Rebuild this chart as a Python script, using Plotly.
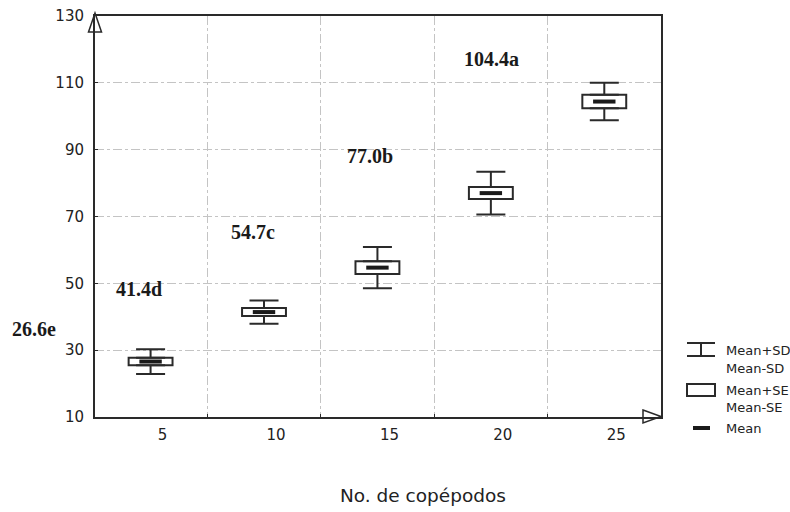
import plotly.graph_objects as go

# ---------------- data ----------------
categories = ["5", "10", "15", "20", "25"]
means = [26.6, 41.4, 54.7, 77.0, 104.4]
sd = [3.7, 3.5, 6.2, 6.4, 5.6]
se = [1.15, 1.2, 1.9, 1.8, 2.0]
group_labels = ["26.6e", "41.4d", "54.7c", "77.0b", "104.4a"]
y_ticks = [10, 30, 50, 70, 90, 110, 130]
x_title = "No. de copépodos"
legend_sd = ["Mean+SD", "Mean-SD"]
legend_se = ["Mean+SE", "Mean-SE"]
legend_mean = ["Mean"]

# ---------------- layout helpers ----------------
W, H = 790, 512
ML, MR, MT, MB = 95, 129, 16, 95
PW, PH = W - ML - MR, H - MT - MB


def px(x):
    return (x - ML) / PW


def py(y):
    return (H - MB - y) / PH


xpos = list(range(len(categories)))
box_lo = [m - s for m, s in zip(means, se)]
box_hi = [m + s for m, s in zip(means, se)]
box_h = [2 * s for s in se]
whisk_ext = [d - s for d, s in zip(sd, se)]
zeros = [0] * len(categories)

DARK = "#2a2a2a"
GRID = "#c4c4c4"
SANS = "DejaVu Sans"

fig = go.Figure()

# upper whiskers (Mean+SE -> Mean+SD)
fig.add_trace(go.Scatter(
    x=xpos, y=box_hi, mode="markers",
    marker=dict(size=1, opacity=0),
    error_y=dict(type="data", symmetric=False, array=whisk_ext, arrayminus=zeros,
                 width=14.5, thickness=2, color=DARK),
    showlegend=False, hoverinfo="skip"))
# lower whiskers (Mean-SE -> Mean-SD)
fig.add_trace(go.Scatter(
    x=xpos, y=box_lo, mode="markers",
    marker=dict(size=1, opacity=0),
    error_y=dict(type="data", symmetric=False, array=zeros, arrayminus=whisk_ext,
                 width=14.5, thickness=2, color=DARK),
    showlegend=False, hoverinfo="skip"))
# SE boxes
fig.add_trace(go.Bar(
    x=xpos, y=box_h, base=box_lo, width=0.387,
    marker=dict(color="white", line=dict(color=DARK, width=2)),
    showlegend=False, hoverinfo="skip"))
# means
fig.add_trace(go.Scatter(
    x=xpos, y=means, mode="markers",
    marker=dict(symbol="line-ew", size=16, line=dict(width=4, color="#1a1a1a")),
    showlegend=False))

shapes = []
# axis arrows
shapes.append(dict(type="path", xref="paper", yref="paper",
                   path=f"M{px(88.5)},{py(32)} L{px(95)},{py(13)} L{px(101.5)},{py(32)} Z",
                   line=dict(color=DARK, width=1.5)))
shapes.append(dict(type="path", xref="paper", yref="paper",
                   path=f"M{px(643)},{py(410)} L{px(661)},{py(416.5)} L{px(643)},{py(423)} Z",
                   line=dict(color=DARK, width=1.5)))
# legend icons
shapes += [
    dict(type="line", xref="paper", yref="paper", x0=px(701), x1=px(701), y0=py(343), y1=py(356),
         line=dict(color=DARK, width=2)),
    dict(type="line", xref="paper", yref="paper", x0=px(687), x1=px(715), y0=py(343), y1=py(343),
         line=dict(color=DARK, width=2)),
    dict(type="line", xref="paper", yref="paper", x0=px(687), x1=px(715), y0=py(356), y1=py(356),
         line=dict(color=DARK, width=2)),
    dict(type="rect", xref="paper", yref="paper", x0=px(687), x1=px(715), y0=py(384), y1=py(396),
         line=dict(color=DARK, width=2), fillcolor="white"),
    dict(type="line", xref="paper", yref="paper", x0=px(693), x1=px(710), y0=py(428), y1=py(428),
         line=dict(color="#1a1a1a", width=4)),
]

annotations = []
label_px = [(34, 329), (138.5, 289), (253, 232), (370, 156), (491, 59)]
for txt, (lx, ly) in zip(group_labels, label_px):
    annotations.append(dict(xref="paper", yref="paper", x=px(lx), y=py(ly), text=txt,
                            showarrow=False, xanchor="center", yanchor="middle",
                            font=dict(family="Liberation Serif", size=20, color="#1a1a1a",
                                      weight="bold")))
legend_rows = [(legend_sd[0], 350), (legend_sd[1], 368), (legend_se[0], 390),
               (legend_se[1], 407), (legend_mean[0], 428)]
for txt, ly in legend_rows:
    annotations.append(dict(xref="paper", yref="paper", x=px(724), y=py(ly), text=txt,
                            showarrow=False, xanchor="left", yanchor="middle",
                            font=dict(family=SANS, size=13, color="#222")))
annotations.append(dict(xref="paper", yref="paper", x=px(423), y=py(495.5), text=x_title,
                        showarrow=False, xanchor="center", yanchor="middle",
                        font=dict(family=SANS, size=18.5, color="#222")))

fig.update_layout(
    width=W, height=H,
    margin=dict(l=ML, r=MR, t=MT, b=MB, autoexpand=False),
    paper_bgcolor="white", plot_bgcolor="white",
    showlegend=False,
    shapes=shapes, annotations=annotations,
    xaxis=dict(range=[-0.49, 4.5], tickmode="array", tickvals=xpos, ticktext=categories,
               showgrid=False, zeroline=False, showline=True, mirror=True,
               linecolor=DARK, linewidth=2, ticks="", ticklabelshift=12,
               ticklabelstandoff=3, tickfont=dict(family=SANS, size=15, color="#222"),
               minor=dict(tickmode="array", tickvals=[0.5, 1.5, 2.5, 3.5], showgrid=True,
                          gridcolor=GRID, griddash="dashdot", gridwidth=1,
                          ticks="inside", ticklen=3, tickcolor=DARK)),
    yaxis=dict(range=[10, 130], tickmode="array", tickvals=y_ticks,
               showgrid=True, gridcolor=GRID, griddash="dashdot", gridwidth=1,
               zeroline=False, showline=True, mirror=True, linecolor=DARK, linewidth=2,
               ticks="inside", ticklen=3, tickcolor=DARK, ticklabelstandoff=6,
               tickfont=dict(family=SANS, size=15, color="#222")),
)

fig.write_html("out.html", config={"displayModeBar": False},
               post_script="document.body.style.margin='0';document.body.style.padding='0';")
